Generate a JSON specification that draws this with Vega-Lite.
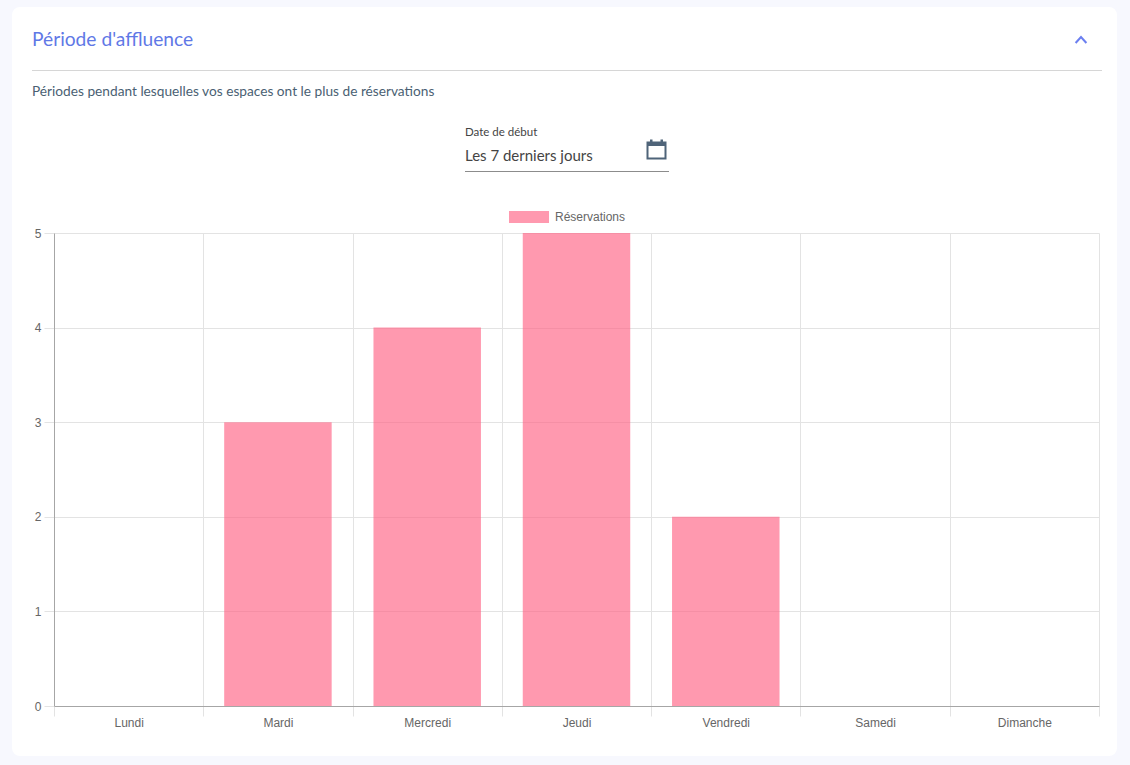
{
"$schema":"https://vega.github.io/schema/vega-lite/v6.json",
"width":1045,"height":473,
"autosize":{"type":"none"},
"padding":{"left":54,"top":233,"right":31,"bottom":59},
"background":"#ffffff",
"config":{"view":{"stroke":null}},
"title":{"text":"Période d'affluence","subtitle":"Périodes pendant lesquelles vos espaces ont le plus de réservations","anchor":"start","frame":"group","dx":-22,"offset":-152,"subtitlePadding":35,"font":"Lato","fontSize":19.2,"fontWeight":"normal","color":"#5f78e6","subtitleFont":"Lato","subtitleFontSize":13.7,"subtitleColor":"#4a5f73"},
"data":{"values":[
{"jour":"Lundi","reservations":0,"serie":"Réservations"},
{"jour":"Mardi","reservations":3,"serie":"Réservations"},
{"jour":"Mercredi","reservations":4,"serie":"Réservations"},
{"jour":"Jeudi","reservations":5,"serie":"Réservations"},
{"jour":"Vendredi","reservations":2,"serie":"Réservations"},
{"jour":"Samedi","reservations":0,"serie":"Réservations"},
{"jour":"Dimanche","reservations":0,"serie":"Réservations"}
]},
"layer":[
{"mark":{"type":"bar","opacity":0.65,"width":{"band":0.72}},
"encoding":{
"x":{"field":"jour","type":"nominal","sort":null,"scale":{"padding":0},"axis":{"title":null,"labelAngle":0,"bandPosition":0,"tickBand":"extent","grid":true,"gridColor":"#e3e3e3","tickColor":"#e3e3e3","tickSize":10,"domainColor":"#a6a6a6","labelFont":"Liberation Sans","labelFontSize":12,"labelColor":"#666666","labelPadding":1}},
"y":{"field":"reservations","type":"quantitative","scale":{"domain":[0,5]},"axis":{"title":null,"values":[0,1,2,3,4,5],"format":"d","grid":true,"gridColor":"#e3e3e3","tickColor":"#e3e3e3","tickSize":10,"domainColor":"#a6a6a6","labelFont":"Liberation Sans","labelFontSize":12,"labelColor":"#666666","labelPadding":3}},
"color":{"field":"serie","type":"nominal","scale":{"range":["#ff6384"]},"legend":{"title":null,"orient":"none","legendX":454,"legendY":-37,"padding":0,"symbolType":"M-1,-0.3H1V0.3H-1Z","symbolSize":1600,"symbolOpacity":0.65,"labelOffset":5,"labelFont":"Liberation Sans","labelFontSize":12,"labelColor":"#666666"}}
}},
{"data":{"values":[{"part":"page"}]},
"mark":{"type":"rect","fill":null,"fillOpacity":0,"stroke":"#f7f8fe","strokeWidth":60,"cornerRadius":38},
"encoding":{"x":{"value":-72},"x2":{"value":1093},"y":{"value":-256},"y2":{"value":553}}},
{"data":{"values":[{"part":"divider"}]},
"mark":{"type":"rule","color":"#d6d6d6","strokeWidth":1},
"encoding":{"x":{"value":-22},"x2":{"value":1048},"y":{"value":-162.5}}},
{"data":{"values":[{"part":"input"}]},
"mark":{"type":"rule","color":"#8c8c8c","strokeWidth":1},
"encoding":{"x":{"value":411},"x2":{"value":615},"y":{"value":-61.5}}},
{"data":{"values":[{"label":"Date de début"}]},
"mark":{"type":"text","align":"left","baseline":"middle","font":"Lato","fontSize":11.5,"color":"#444444"},
"encoding":{"text":{"field":"label"},"x":{"value":411},"y":{"value":-100}}},
{"data":{"values":[{"label":"Les 7 derniers jours"}]},
"mark":{"type":"text","align":"left","baseline":"middle","font":"Lato","fontSize":15,"color":"#444444"},
"encoding":{"text":{"field":"label"},"x":{"value":411},"y":{"value":-77}}},
{"data":{"values":[{"part":"calendar"}]},
"mark":{"type":"point","filled":true,"opacity":1,"color":"#4f6479","size":400,"shape":"M-1,-.8H1V1H-1Z M-.8,-.35V.8H.8V-.35Z M-.65,-1H-.4V-.8H-.65Z M.4,-1H.65V-.8H.4Z"},
"encoding":{"x":{"value":602.5},"y":{"value":-83.5}}},
{"data":{"values":[{"part":"chevron"}]},
"mark":{"type":"point","filled":false,"opacity":1,"color":"#6b7ff0","strokeWidth":2,"size":144,"shape":"M-.9,.5L0,-.5L.9,.5"},
"encoding":{"x":{"value":1027},"y":{"value":-193}}}
],
"resolve":{"legend":{"color":"independent"}}
}
